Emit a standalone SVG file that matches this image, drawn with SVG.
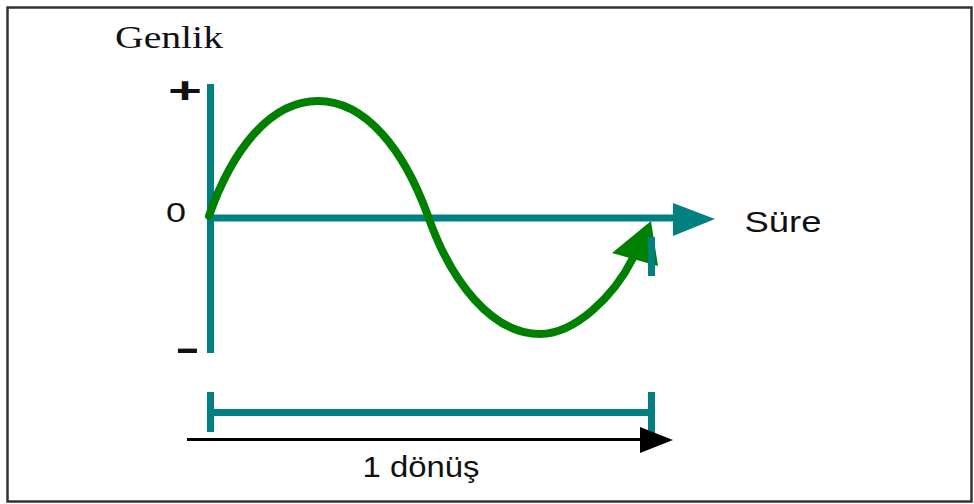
<svg xmlns="http://www.w3.org/2000/svg" width="974" height="504" viewBox="0 0 974 504">
<style>
.sans{font-family:"Liberation Sans",Arial,sans-serif;fill:#111}
.serif{font-family:"Liberation Serif","Times New Roman",serif;fill:#111}
.teal{stroke:#008080;fill:none}
.tealf{fill:#008080}
.green{stroke:#008000;fill:none;stroke-width:8;stroke-linecap:round;stroke-linejoin:round}
</style>
<rect x="0" y="0" width="974" height="504" fill="#fff"/>
<rect x="7.5" y="7.5" width="964" height="494" fill="none" stroke="#333" stroke-width="2.5"/>
<g id="labels">
<text class="serif" x="115" y="48" font-size="32.5" textLength="108" lengthAdjust="spacingAndGlyphs">Genlik</text>
<text class="sans" x="185" y="103" font-size="36" font-weight="bold" text-anchor="middle" textLength="34" lengthAdjust="spacingAndGlyphs">+</text>
<text class="sans" x="176" y="222" font-size="28" text-anchor="middle" textLength="20" lengthAdjust="spacingAndGlyphs">0</text>
<text class="sans" x="187.5" y="360" font-size="36" font-weight="bold" text-anchor="middle" textLength="25" lengthAdjust="spacingAndGlyphs">-</text>
<text class="sans" x="783" y="232" font-size="30" text-anchor="middle" textLength="77" lengthAdjust="spacingAndGlyphs">Süre</text>
<text class="sans" x="421" y="477" font-size="30" text-anchor="middle" textLength="117" lengthAdjust="spacingAndGlyphs">1 dönüş</text>
</g>
<g id="axes">
<line class="teal" x1="210.5" y1="84" x2="210.5" y2="353" stroke-width="7"/>
<line class="teal" x1="210" y1="218" x2="676" y2="218" stroke-width="7"/>
<polygon class="tealf" points="673,203 715,219 673,236"/>
</g>
<g id="wave">
<path class="green" d="M209,216 C232,150 270,101 318,101 C366,101 404,150 428,216 C451,282 492,334 540,334 C575,334 614,296 633,258"/>
<polygon points="651,221 612,253 658,266" fill="#008000"/>
<line class="teal" x1="651.5" y1="237" x2="651.5" y2="276" stroke-width="7"/>
</g>
<g id="period">
<line class="teal" x1="210.5" y1="392" x2="210.5" y2="432" stroke-width="7"/>
<line class="teal" x1="651.5" y1="392" x2="651.5" y2="433" stroke-width="7"/>
<line class="teal" x1="210" y1="412.5" x2="651" y2="412.5" stroke-width="7"/>
<line x1="187" y1="439.5" x2="645" y2="439.5" stroke="#000" stroke-width="3"/>
<polygon points="640,427 673,440 640,453" fill="#000"/>
</g>
</svg>
